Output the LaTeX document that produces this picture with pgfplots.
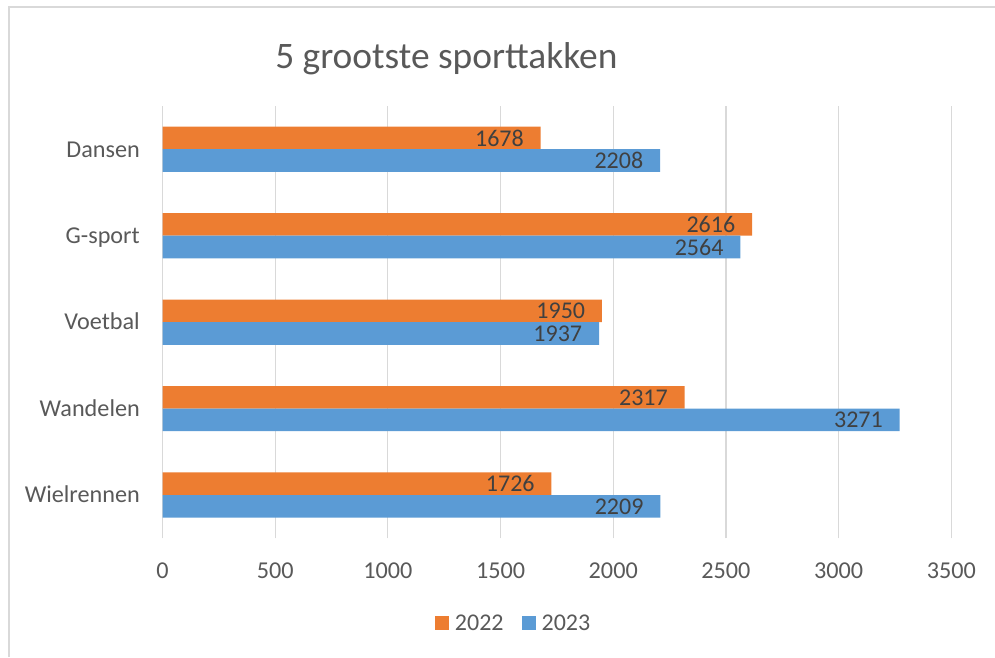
\documentclass[border=0pt]{standalone}
\usepackage{fontspec}
\setmainfont{Carlito}
\usepackage{pgfplots}
\pgfplotsset{compat=1.18}
\definecolor{c22}{HTML}{ED7D31}
\definecolor{c23}{HTML}{5B9BD5}
\definecolor{gridc}{HTML}{D9D9D9}
\definecolor{textc}{HTML}{595959}
\definecolor{labelc}{HTML}{404040}
\begin{document}
\begin{tikzpicture}
\useasboundingbox (0,0) rectangle (995pt,657pt);
\draw[gridc, line width=1.2pt] (9pt,0pt) -- (9pt,650pt) -- (995pt,650pt);
\node[anchor=base, font=\fontsize{37.4}{44}\selectfont, text=textc] at (446.3pt,588.7pt) {5 grootste sporttakken};
\begin{axis}[
  at={(162.5pt,118.7pt)}, anchor=south west,
  scale only axis, width=788.8pt, height=432.3pt,
  xbar, bar width=22.6pt,
  xmin=0, xmax=3500, ymin=-0.5, ymax=4.5,
  xtick={0,500,...,3500},
  ytick={0,1,2,3,4},
  yticklabels={Wielrennen,Wandelen,Voetbal,G-sport,Dansen},
  xmajorgrids, ymajorgrids=false,
  major grid style={color=gridc, line width=1.2pt},
  axis line style={draw=none},
  major tick length=0pt,
  /pgf/number format/1000 sep={},
  /pgf/number format/assume math mode=true,
  tick label style={font=\fontsize{24.2}{28}\selectfont, text=textc, inner sep=0pt},
  xticklabel style={anchor=north, yshift=-24pt},
  yticklabel style={anchor=base east, xshift=-22.5pt, yshift=-7.8pt},
  point meta=x,
  nodes near coords,
  nodes near coords style={anchor=east, inner sep=0pt, xshift=-16.7pt, font=\fontsize{24}{28}\selectfont, text=labelc},
  legend columns=2,
  legend style={at={(0.3455,-0.1959)}, anchor=west, draw=none, fill=none, inner sep=0pt,
    font=\fontsize{24}{28}\selectfont, text=textc, nodes={inner sep=0pt},
    /tikz/every even column/.append style={column sep=18.3pt},
    /tikz/every odd column/.append style={column sep=5.7pt}},
  legend image code/.code={\fill[#1] (0pt,-7pt) rectangle (14pt,7pt);},
]
\addplot[fill=c22, draw=none, bar shift=11.3pt] coordinates {(1678,4) (2616,3) (1950,2) (2317,1) (1726,0)};
\addplot[fill=c23, draw=none, bar shift=-11.3pt] coordinates {(2208,4) (2564,3) (1937,2) (3271,1) (2209,0)};
\legend{2022,2023}
\end{axis}
\end{tikzpicture}
\end{document}
